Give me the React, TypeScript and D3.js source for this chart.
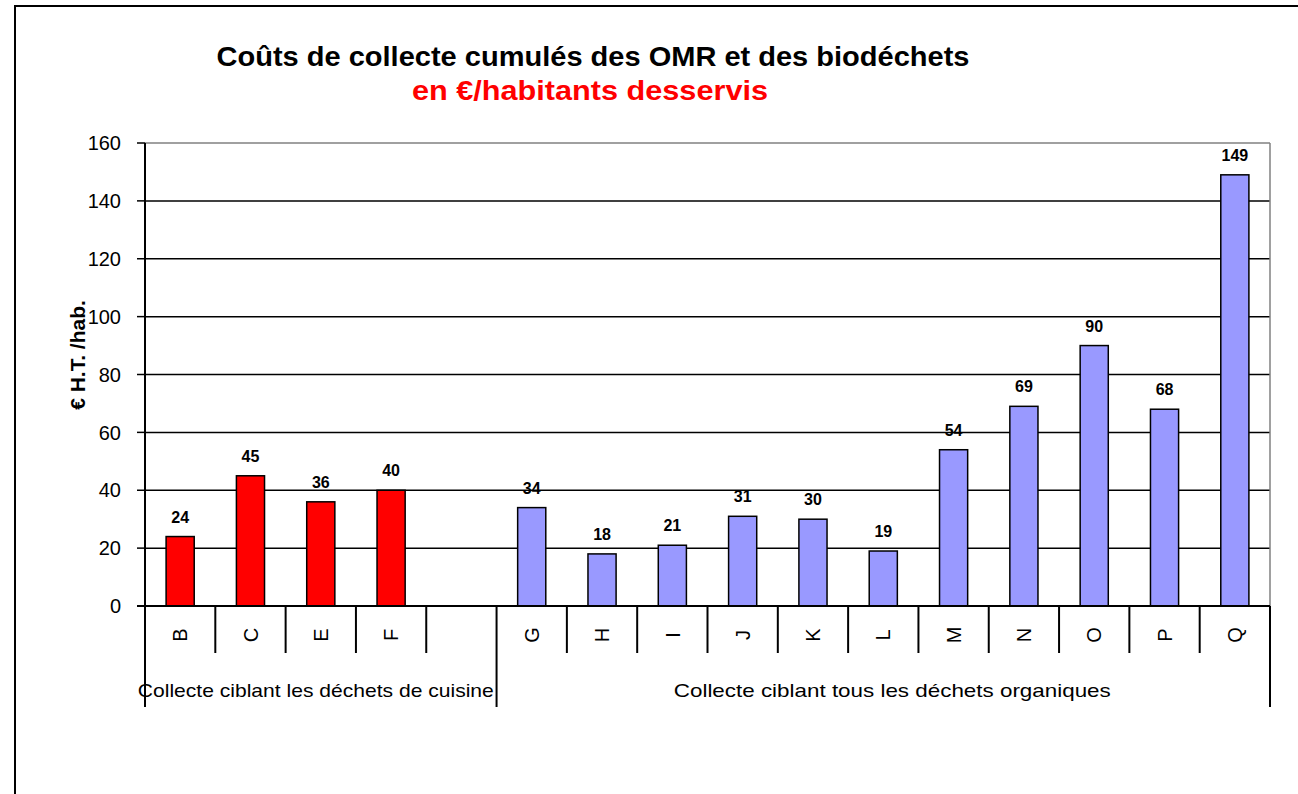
import * as d3 from "d3";

// categories (the empty slot separates the two collection groups)
const categories = ["B", "C", "E", "F", "", "G", "H", "I", "J", "K", "L", "M", "N", "O", "P", "Q"];
const values = [24, 45, 36, 40, null, 34, 18, 21, 31, 30, 19, 54, 69, 90, 68, 149];
const groups = [
  { label: "Collecte ciblant les déchets de cuisine", from: 0, to: 5, color: "#FF0000" },
  { label: "Collecte ciblant tous les déchets organiques", from: 5, to: 16, color: "#9999FF" },
];
const yTicks = [0, 20, 40, 60, 80, 100, 120, 140, 160];
const title = "Coûts de collecte cumulés des OMR et des biodéchets";
const subtitle = "en €/habitants desservis";
const yLabel = "€ H.T. /hab.";

const W = 1298;
const H = 794;
const left = 145;
const right = 1270;
const top = 143;
const bottom = 606;
const font = "Liberation Sans, Arial, sans-serif";
// group label widths / offsets (the original text is spread wider than the font)
const groupLen = [356, 437];
const groupDx = [-5, 9];

export default function App() {
  const keys = categories.map((c, i) => `${i}`);
  const x = d3.scaleBand<string>().domain(keys).range([left, right]).paddingInner(0).paddingOuter(0);
  const y = d3.scaleLinear().domain([0, 160]).range([bottom, top]);
  const bw = x.bandwidth();
  const barW = bw * 0.4;
  const colorOf = (i: number) => groups.find((g) => i >= g.from && i < g.to)!.color;
  const groupEdges = [left, ...groups.map((g) => x(`${g.to - 1}`)! + bw)];

  return (
    <svg width={W} height={H} style={{ position: "absolute", left: 0, top: 0, background: "#fff" }} fontFamily={font}>
      {/* outer frame */}
      <rect x={15} y={6} width={W + 20} height={H + 20} fill="#fff" stroke="#000" strokeWidth={2} />

      {/* titles */}
      <text x={593} y={66} textAnchor="middle" fontSize={28} fontWeight="bold" fill="#000" textLength={753} lengthAdjust="spacingAndGlyphs">{title}</text>
      <text x={590} y={100} textAnchor="middle" fontSize={28} fontWeight="bold" fill="#FF0000" textLength={356} lengthAdjust="spacingAndGlyphs">{subtitle}</text>

      {/* gridlines */}
      {yTicks.filter((t) => t > 0 && t < 160).map((t) => (
        <line key={t} x1={left} x2={right} y1={y(t)} y2={y(t)} stroke="#000" strokeWidth={1.5} />
      ))}
      {/* plot border top/right */}
      <line x1={left} x2={right} y1={y(160)} y2={y(160)} stroke="#808080" strokeWidth={1.5} />
      <line x1={right} x2={right} y1={y(160)} y2={bottom} stroke="#808080" strokeWidth={1.5} />

      {/* y ticks & labels */}
      {yTicks.map((t) => (
        <g key={t}>
          <line x1={137} x2={left} y1={y(t)} y2={y(t)} stroke="#000" strokeWidth={1.5} />
          <text x={121} y={y(t)} dy="0.36em" textAnchor="end" fontSize={20} fill="#000">{t}</text>
        </g>
      ))}
      <text transform={`translate(85,355) rotate(-90)`} textAnchor="middle" fontSize={21} fontWeight="bold" fill="#000">{yLabel}</text>

      {/* bars */}
      {values.map((v, i) =>
        v == null ? null : (
          <g key={i}>
            <rect
              x={x(keys[i])! + (bw - barW) / 2}
              y={y(v)}
              width={barW}
              height={bottom - y(v)}
              fill={colorOf(i)}
              stroke="#000"
              strokeWidth={1.5}
            />
            <text x={x(keys[i])! + bw / 2} y={y(v) - 14} textAnchor="middle" fontSize={16} fontWeight="bold" fill="#000">{v}</text>
          </g>
        )
      )}

      {/* axes */}
      <line x1={left} x2={left} y1={top} y2={707} stroke="#000" strokeWidth={2} />
      <line x1={137} x2={right} y1={bottom} y2={bottom} stroke="#000" strokeWidth={2} />

      {/* category dividers & labels */}
      {keys.map((k, i) => (
        <g key={k}>
          <line x1={x(k)! + bw} x2={x(k)! + bw} y1={bottom} y2={groupEdges.includes(x(k)! + bw) ? 707 : 653} stroke="#000" strokeWidth={2} />
          <text transform={`translate(${x(k)! + bw / 2},635) rotate(-90)`} textAnchor="middle" dy="0.36em" fontSize={20} fill="#000">{categories[i]}</text>
        </g>
      ))}

      {/* group labels */}
      {groups.map((g, i) => (
        <text key={i} x={(groupEdges[i] + groupEdges[i + 1]) / 2 + groupDx[i]} y={697} textAnchor="middle" fontSize={19} fill="#000" textLength={groupLen[i]} lengthAdjust="spacingAndGlyphs">{g.label}</text>
      ))}
    </svg>
  );
}
